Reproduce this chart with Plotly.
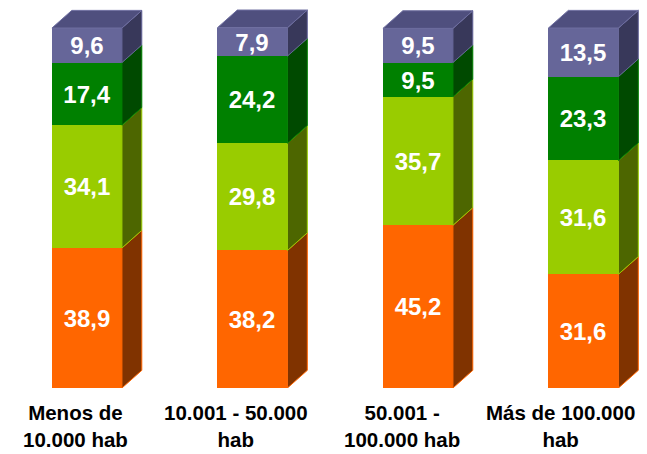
import plotly.graph_objects as go

# categorias (tamano del municipio)
categorias = ['Menos de<br>10.000 hab', '10.001 - 50.000<br>hab',
              '50.001 -<br>100.000 hab', 'Más de 100.000<br>hab']

# porcentajes por segmento, de abajo hacia arriba
naranja = [38.9, 38.2, 45.2, 31.6]
verde_claro = [34.1, 29.8, 35.7, 31.6]
verde_oscuro = [17.4, 24.2, 9.5, 23.3]
morado = [9.6, 7.9, 9.5, 13.5]

series = [naranja, verde_claro, verde_oscuro, morado]
frente = ['#ff6600', '#99cc00', '#008000', '#666699']
lateral = ['#803300', '#4d6600', '#004a00', '#38385a']
techo = '#4f4f7e'

ancho = 0.423      # ancho de la cara frontal (unidades de categoria)
prof_x = 0.12      # profundidad 3D en x
prof_y = 4.9       # profundidad 3D en y (unidades de %)

fuente = 'Arial, Liberation Sans'

fig = go.Figure()
xs = list(range(len(categorias)))

# caras frontales
for vals, col in zip(series, frente):
    fig.add_trace(go.Bar(
        x=xs, y=vals, width=ancho, marker=dict(color=col, line=dict(width=0)),
        texttemplate='%{y:.1f}', textposition='inside', insidetextanchor='middle',
        textfont=dict(color='white', size=24, family=fuente, weight='bold'),
        hoverinfo='skip'))

# caras laterales
base = [0.0] * len(xs)
for vals, col, lat in zip(series, frente, lateral):
    px, py = [], []
    for i, v in enumerate(vals):
        xr = xs[i] + ancho / 2
        y0, y1 = base[i], base[i] + v
        px += [xr, xr + prof_x, xr + prof_x, xr, xr, None]
        py += [y0, y0 + prof_y, y1 + prof_y, y1, y0, None]
        base[i] = y1
    fig.add_trace(go.Scatter(x=px, y=py, mode='lines', fill='toself', fillcolor=lat,
                             line=dict(color=col, width=1), hoverinfo='skip'))

# techo de cada barra
px, py = [], []
for i in xs:
    xl, xr, yt = xs[i] - ancho / 2, xs[i] + ancho / 2, base[i]
    px += [xl, xl + prof_x, xr + prof_x, xr, xl, None]
    py += [yt, yt + prof_y, yt + prof_y, yt, yt, None]
fig.add_trace(go.Scatter(x=px, y=py, mode='lines', fill='toself', fillcolor=techo,
                         line=dict(color='#6e6ea0', width=1), hoverinfo='skip'))

# etiquetas de categoria, algo desplazadas a la izquierda como en el original
desplaz = [-11, -16, -16, -23]
for i, cat in enumerate(categorias):
    fig.add_annotation(x=xs[i], y=0, xref='x', yref='y', text=cat, showarrow=False,
                       yanchor='top', yshift=-11, xshift=desplaz[i],
                       font=dict(size=20.5, color='black', family=fuente, weight='bold'))

fig.update_layout(
    width=639, height=446,
    barmode='stack', bargap=0, showlegend=False,
    separators=',.',
    uniformtext=dict(minsize=24, mode='show'),
    margin=dict(l=0, r=0, t=0, b=66),
    paper_bgcolor='white', plot_bgcolor='white',
    font=dict(family=fuente),
    xaxis=dict(range=[-0.477, 3.384], visible=False),
    yaxis=dict(range=[0, 105.56], visible=False),
)

fig.write_html("out.html")
